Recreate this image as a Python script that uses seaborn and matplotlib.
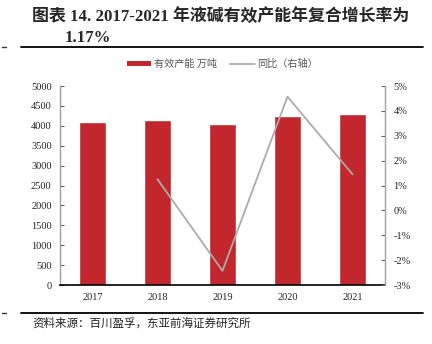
import numpy as np
import pandas as pd
import matplotlib
matplotlib.use("Agg")
import matplotlib.pyplot as plt
from matplotlib.lines import Line2D
from matplotlib.patches import Patch
import seaborn as sns

# Data
years = ["2017", "2018", "2019", "2020", "2021"]
capacity = [4100, 4151, 4050, 4235, 4296]          # 有效产能（万吨）
yoy_pct = [1.25, -2.43, 4.57, 1.45]                # 同比（%），2018 起
left_ticks = [0, 500, 1000, 1500, 2000, 2500, 3000, 3500, 4000, 4500, 5000]
right_ticks = [-3, -2, -1, 0, 1, 2, 3, 4, 5]

BAR_RED = "#C1272D"
LINE_GREY = "#ABABAB"
AXIS_GREY = "#A0A0A0"

sns.set_theme(style="white")
plt.rcParams["font.family"] = ["Liberation Serif", "Noto Sans CJK SC", "DejaVu Sans"]
CJK = ["Noto Sans CJK SC", "DejaVu Sans"]
MIX = ["Liberation Serif", "Noto Sans CJK SC", "DejaVu Sans"]

fig = plt.figure(figsize=(4.32, 3.44), dpi=100)
ax = fig.add_axes([0.1389, 0.1715, 0.7523, 0.5785])

df = pd.DataFrame({"year": years, "capacity": capacity})
sns.barplot(data=df, x="year", y="capacity", color=BAR_RED, width=0.42,
            saturation=1, ax=ax)
ax.set_xlim(-0.5, len(years) - 0.5)
ax.set_ylim(0, 5000)
ax.set_yticks(left_ticks)
ax.set_yticklabels([str(t) for t in left_ticks])
ax.set_xlabel("")
ax.set_ylabel("")

ax2 = ax.twinx()
line_x = np.arange(1, len(years))
sns.lineplot(x=line_x, y=yoy_pct, color=LINE_GREY, linewidth=1.3, ax=ax2)
ax2.set_ylim(-3, 5)
ax2.set_yticks(right_ticks)
ax2.set_yticklabels([f"{t}%" for t in right_ticks])
ax2.set_xlim(-0.5, len(years) - 0.5)

for a in (ax, ax2):
    for s in a.spines.values():
        s.set_visible(False)
ax.spines["left"].set_visible(True)
ax.spines["left"].set_color(AXIS_GREY)
ax.spines["left"].set_linewidth(1.0)
ax.spines["bottom"].set_visible(True)
ax.spines["bottom"].set_color("black")
ax.spines["bottom"].set_linewidth(1.2)
ax2.spines["right"].set_visible(True)
ax2.spines["right"].set_color(AXIS_GREY)
ax2.spines["right"].set_linewidth(1.0)

ax.tick_params(axis="y", direction="in", length=3, width=0.8, color="#606060",
               labelsize=7.5, labelcolor="#222222", pad=6)
ax.tick_params(axis="x", length=0, labelsize=7.5, labelcolor="#222222", pad=6)
ax2.tick_params(axis="y", direction="in", length=3, width=0.8, color="#606060",
                labelsize=7.5, labelcolor="#222222", pad=6)
ax.set_zorder(ax2.get_zorder() - 1)
ax2.patch.set_visible(False)

# Legend
handles = [Patch(facecolor=BAR_RED, edgecolor="none"),
           Line2D([0], [0], color=LINE_GREY, linewidth=1.3)]
fig.legend(handles, ["有效产能 万吨", "同比（右轴）"], loc="center",
           bbox_to_anchor=(0.515, 0.814), ncol=2, frameon=False,
           prop={"family": CJK, "size": 7.3}, labelcolor="#555555",
           handlelength=2.4, handleheight=0.4, columnspacing=1.3,
           handletextpad=0.25)

# Title block
fig.text(0.074, 0.951, "图表 14. 2017-2021 年液碱有效产能年复合增长率为",
         family=MIX, fontsize=12.2, fontweight="bold", ha="left", va="center")
fig.text(0.150, 0.890, "1.17%", family=MIX, fontsize=12.2, fontweight="bold",
         ha="left", va="center")
fig.add_artist(Line2D([0.049, 0.979], [0.864, 0.864], color="black",
                      linewidth=1.3, transform=fig.transFigure))

# Margin marks
for yy in (0.864, 0.091):
    fig.add_artist(Line2D([0.004, 0.014], [yy, yy], color="#333333",
                          linewidth=1.0, transform=fig.transFigure))

# Source footer
fig.add_artist(Line2D([0.049, 0.979], [0.091, 0.091], color="black",
                      linewidth=1.3, transform=fig.transFigure))
fig.text(0.074, 0.061, "资料来源：百川盈孚，东亚前海证券研究所",
         family=CJK, fontsize=8.3, color="#222222", ha="left", va="center")

fig.savefig("out.png", dpi=100)
